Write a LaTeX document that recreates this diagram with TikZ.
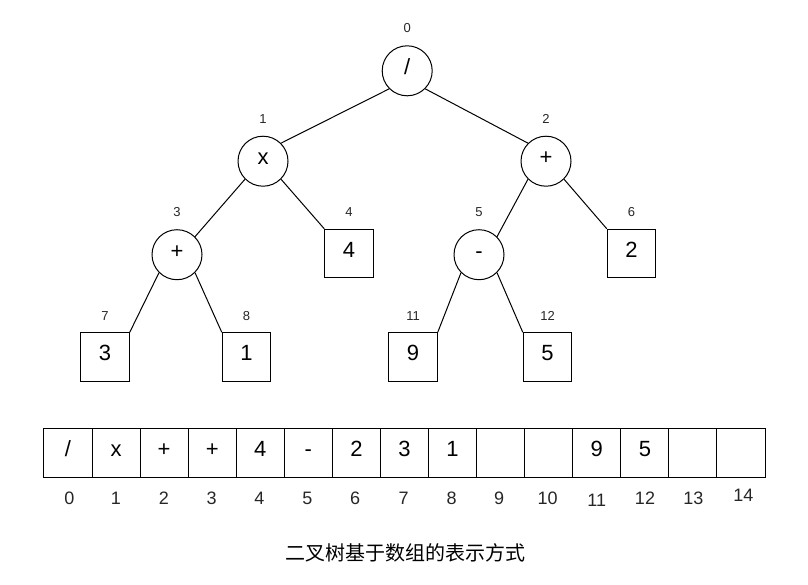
\documentclass[tikz,border=0pt]{standalone}
\usepackage{fontspec}
\setmainfont{Liberation Sans}
\newfontfamily\cjk{Noto Sans CJK SC}
\begin{document}
\begin{tikzpicture}[x=1pt,y=-1pt,
  opnode/.style={circle, draw, line width=1pt, minimum size=50pt, inner sep=0pt, text height=0.716em, text depth=0pt, font=\fontsize{22}{22}\selectfont},
  leaf/.style={rectangle, draw, line width=1pt, minimum size=48.5pt, inner sep=0pt, text height=0.716em, text depth=0pt, font=\fontsize{22}{22}\selectfont},
  idx/.style={font=\fontsize{13}{13}\selectfont, text=black!85, inner sep=0pt, text height=0.716em, text depth=0pt},
  cell/.style={rectangle, draw, line width=1pt, minimum width=48.07pt, minimum height=49pt, inner sep=0pt, text height=0.716em, text depth=0pt, font=\fontsize{22}{22}\selectfont},
  aidx/.style={font=\fontsize{18}{18}\selectfont, text=black!85, inner sep=0pt, text height=0.716em, text depth=0pt},
  link/.style={line width=1pt}]
\useasboundingbox (0,0) rectangle (808,584);

% tree nodes
\node[opnode] (c0) at (407.2,70.8) {/};
\node[opnode] (c1) at (263,161.2) {x};
\node[opnode] (c2) at (546,161.2) {+};
\node[opnode] (c3) at (177,254.7) {+};
\node[opnode] (c5) at (479,254.7) {-};
\node[leaf] (b4) at (349,253.5) {4};
\node[leaf] (b6) at (631.5,253.5) {2};
\node[leaf] (b7) at (105,357) {3};
\node[leaf] (b8) at (246.5,357) {1};
\node[leaf] (b11) at (413,357) {9};
\node[leaf] (b12) at (547.5,357) {5};

% tree index labels
\node[idx] (n0) at ([yshift=16pt]c0.north) {0};
\node[idx] (n1) at ([yshift=16pt]c1.north) {1};
\node[idx] (n2) at ([yshift=16pt]c2.north) {2};
\node[idx] (n3) at ([yshift=16pt]c3.north) {3};
\node[idx] (n5) at ([yshift=16pt]c5.north) {5};
\node[idx] (n4) at ([yshift=15.5pt]b4.north) {4};
\node[idx] (n6) at ([yshift=15.5pt]b6.north) {6};
\node[idx] (n7) at ([yshift=15.5pt]b7.north) {7};
\node[idx] (n8) at ([yshift=15.5pt]b8.north) {8};
\node[idx] (n11) at ([yshift=15.5pt]b11.north) {11};
\node[idx] (n12) at ([yshift=15.5pt]b12.north) {12};

% tree edges
\draw[link] (c0.-135) -- (c1.45);
\draw[link] (c0.-45) -- (c2.135);
\draw[link] (c1.-135) -- (c3.45);
\draw[link] (c1.-45) -- (b4.north west);
\draw[link] (c3.-135) -- (b7.north east);
\draw[link] (c3.-45) -- (b8.north west);
\draw[link] (c2.-135) -- (c5.45);
\draw[link] (c2.-45) -- (b6.north west);
\draw[link] (c5.-135) -- (b11.north east);
\draw[link] (c5.-45) -- (b12.north west);

% array
\node[cell] (a0) at (68.03,452.8) {/};
\node[cell] (a1) at (116.10,452.8) {x};
\node[cell] (a2) at (164.17,452.8) {+};
\node[cell] (a3) at (212.24,452.8) {+};
\node[cell] (a4) at (260.31,452.8) {4};
\node[cell] (a5) at (308.38,452.8) {-};
\node[cell] (a6) at (356.45,452.8) {2};
\node[cell] (a7) at (404.52,452.8) {3};
\node[cell] (a8) at (452.59,452.8) {1};
\node[cell] (a9) at (500.66,452.8) {};
\node[cell] (a10) at (548.73,452.8) {};
\node[cell] (a11) at (596.80,452.8) {9};
\node[cell] (a12) at (644.87,452.8) {5};
\node[cell] (a13) at (692.94,452.8) {};
\node[cell] (a14) at (741.01,452.8) {};

% array index labels
\node[aidx] (m0) at (69.3,501) {0};
\node[aidx] (m1) at (116,501) {1};
\node[aidx] (m2) at (164,501) {2};
\node[aidx] (m3) at (211.7,501) {3};
\node[aidx] (m4) at (259.3,501) {4};
\node[aidx] (m5) at (307.3,501) {5};
\node[aidx] (m6) at (355,501) {6};
\node[aidx] (m7) at (403.5,501) {7};
\node[aidx] (m8) at (451.7,501) {8};
\node[aidx] (m9) at (499,501) {9};
\node[aidx] (m10) at (547.7,501) {10};
\node[aidx] (m11) at (596.7,503) {11};
\node[aidx] (m12) at (645,501) {12};
\node[aidx] (m13) at (693.3,501) {13};
\node[aidx] (m14) at (743.3,498) {14};

% caption
\node[font=\cjk\fontsize{20}{20}\selectfont, inner sep=0pt] (cap) at (405,553) {二叉树基于数组的表示方式};
\end{tikzpicture}
\end{document}
